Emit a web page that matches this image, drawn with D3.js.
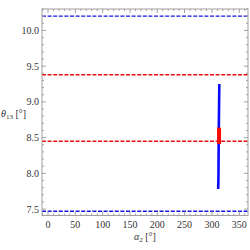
<!DOCTYPE html>
<html>
<head>
<meta charset="utf-8">
<script src="https://cdn.jsdelivr.net/npm/d3@7"></script>
<style>
  body { margin: 0; background: #fff; }
  svg text { font-family: "Liberation Serif", "DejaVu Serif", serif; }
</style>
</head>
<body>
<svg id="chart" width="250" height="250"></svg>
<script>
// horizontal reference lines (theta13 values)
var blueLevels = [10.2, 7.47]
var redLevels = [9.38, 8.45]

// the vertical band of points: [alpha2, theta13]
var bluePts = [[313.5, 9.25], [312.5, 8.6], [312, 8.0], [311.5, 7.78]]
var redPts = [[313, 8.64], [313, 8.41]]

var xTicks = [0, 50, 100, 150, 200, 250, 300, 350]
var yTicks = [7.5, 8.0, 8.5, 9.0, 9.5, 10.0]

var svg = d3.select('#chart')
// plot box (note: "top" is reserved on window, so pl/pt/pr/pb)
var pl = 42, pt = 9, pr = 248, pb = 215.5

var x = d3.scaleLinear().domain([-11, 366]).range([pl, pr])
var y = d3.scaleLinear().domain([7.41, 10.30]).range([pb, pt])

var frameCol = '#a0a0a0'

// dashed levels
function dashed (vals, col) {
  svg.selectAll(null).data(vals).enter().append('line')
    .attr('x1', pl).attr('x2', pr)
    .attr('y1', d => y(d)).attr('y2', d => y(d))
    .attr('stroke', col)
    .attr('stroke-width', 1.4)
    .attr('stroke-dasharray', '4,1.6')
}
dashed(blueLevels, '#1414e0')
dashed(redLevels, '#e81010')

// vertical band
var ln = d3.line().x(d => x(d[0])).y(d => y(d[1]))
svg.append('path').datum(bluePts)
  .attr('d', ln).attr('fill', 'none')
  .attr('stroke', '#0a0aff').attr('stroke-width', 2.6)
svg.append('path').datum(redPts)
  .attr('d', ln).attr('fill', 'none')
  .attr('stroke', '#ff0a0a').attr('stroke-width', 4)

// frame with ticks on all sides
var g = svg.append('g')
g.append('rect')
  .attr('x', pl).attr('y', pt)
  .attr('width', pr - pl).attr('height', pb - pt)
  .attr('fill', 'none').attr('stroke', frameCol).attr('stroke-width', 1)

var xMinor = d3.range(-10, 366, 10).filter(v => v % 50 !== 0)
var yMinor = d3.range(7.5, 10.31, 0.1).map(v => +v.toFixed(1)).filter(v => Math.round(v * 10) % 5 !== 0)

function xt (vals, len) {
  g.selectAll(null).data(vals).enter().append('line')
    .attr('x1', d => x(d)).attr('x2', d => x(d))
    .attr('y1', pb).attr('y2', pb - len)
    .attr('stroke', frameCol)
  g.selectAll(null).data(vals).enter().append('line')
    .attr('x1', d => x(d)).attr('x2', d => x(d))
    .attr('y1', pt).attr('y2', pt + len)
    .attr('stroke', frameCol)
}
function yt (vals, len) {
  g.selectAll(null).data(vals).enter().append('line')
    .attr('y1', d => y(d)).attr('y2', d => y(d))
    .attr('x1', pl).attr('x2', pl + len)
    .attr('stroke', frameCol)
  g.selectAll(null).data(vals).enter().append('line')
    .attr('y1', d => y(d)).attr('y2', d => y(d))
    .attr('x1', pr).attr('x2', pr - len)
    .attr('stroke', frameCol)
}
xt(xTicks, 4); xt(xMinor, 2)
yt(yTicks, 4); yt(yMinor, 2)

// tick labels
g.selectAll(null).data(xTicks).enter().append('text')
  .attr('x', d => x(d)).attr('y', pb + 12)
  .attr('text-anchor', 'middle')
  .attr('font-size', 10).attr('fill', '#333')
  .text(d => d)
g.selectAll(null).data(yTicks).enter().append('text')
  .attr('x', pl - 3).attr('y', d => y(d) + 3.5)
  .attr('text-anchor', 'end')
  .attr('font-size', 10).attr('fill', '#333')
  .text(d => d.toFixed(1))

// axis labels
var xl = svg.append('text')
  .attr('x', (pl + pr) / 2).attr('y', 240)
  .attr('text-anchor', 'middle').attr('font-size', 10).attr('fill', '#333')
xl.append('tspan').attr('font-style', 'italic').text('α')
xl.append('tspan').attr('font-size', 7).attr('dy', 2).text('2')
xl.append('tspan').attr('dy', -2).text(' [°]')

var yl = svg.append('text')
  .attr('x', 1).attr('y', 117)
  .attr('font-size', 10).attr('fill', '#333')
yl.append('tspan').attr('font-style', 'italic').text('θ')
yl.append('tspan').attr('font-size', 7).attr('dy', 2).text('13')
yl.append('tspan').attr('dy', -2).text(' [°]')
</script>
</body>
</html>
